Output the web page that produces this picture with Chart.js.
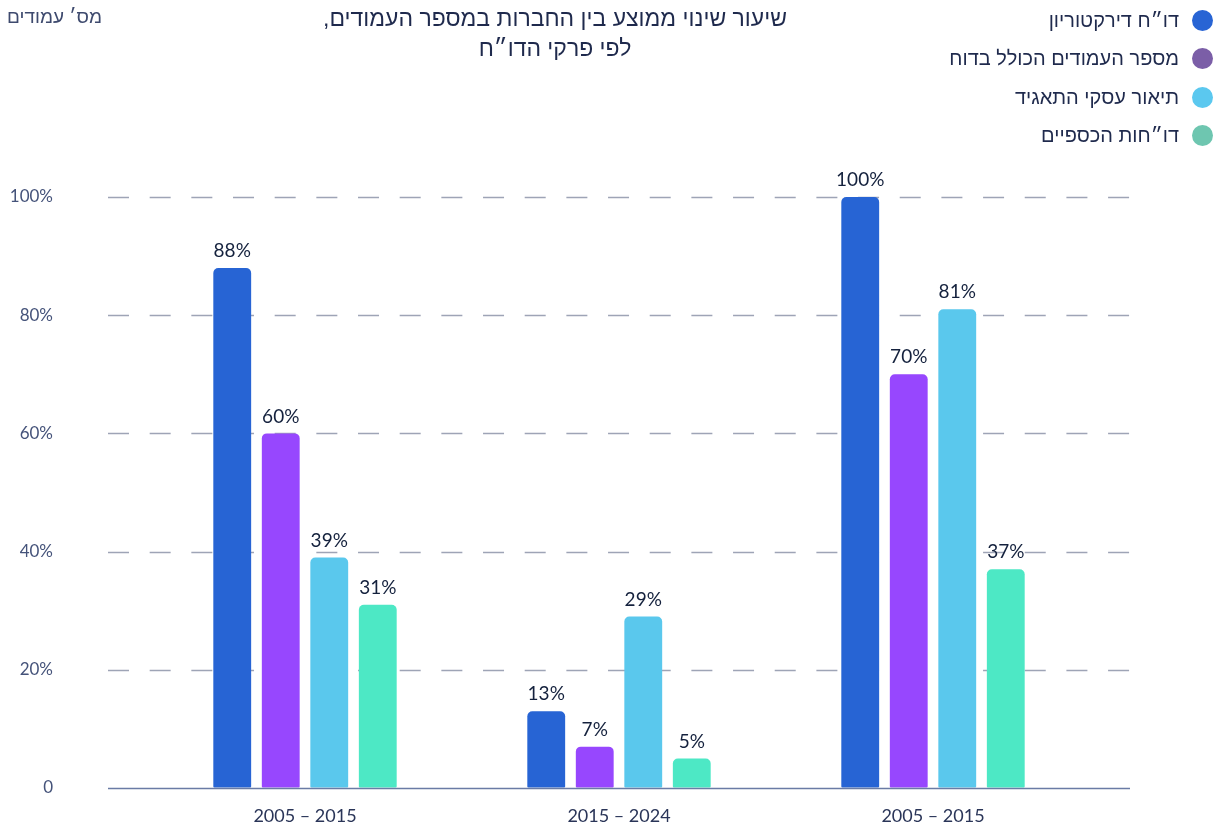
<!DOCTYPE html>
<html lang="he">
<head>
<meta charset="utf-8">
<title>שיעור שינוי ממוצע בין החברות במספר העמודים</title>
<script src="https://cdn.jsdelivr.net/npm/chart.js@4/dist/chart.umd.min.js"></script>
<style>
  html, body { margin: 0; padding: 0; background: #ffffff; }
  #wrap { position: relative; width: 1219px; height: 830px; overflow: hidden; }
  #chart { position: absolute; left: 0; top: 0; }
  .heb { font-family: "Liberation Sans", "DejaVu Sans", sans-serif; direction: rtl; position: absolute; white-space: nowrap; }
  #title { left: 250px; width: 610px; top: 3px; text-align: center; font-size: 23px; line-height: 30px; color: #1f2a4d; }
  #ytitle { left: 7px; top: 6px; font-size: 19px; color: #3e4a6e; }
  #legend { right: 6px; top: 1px; }
  .item { display: flex; flex-direction: row; align-items: center; justify-content: flex-start; height: 38.5px; font-size: 20px; color: #1f2a4d; }
  .dot { width: 21px; height: 21px; border-radius: 50%; margin-left: 13px; flex: none; }
</style>
</head>
<body>
<div id="wrap">
  <canvas id="chart" width="1219" height="830"></canvas>
  <div id="title" class="heb">שיעור שינוי ממוצע בין החברות במספר העמודים,<br>לפי פרקי הדו״ח</div>
  <div id="ytitle" class="heb">מס׳ עמודים</div>
  <div id="legend" class="heb"></div>
</div>
<script>
// Periods on the x axis
const categories = ['2005 – 2015', '2015 – 2024', '2005 – 2015'];

// Average change (%) per report section
const directorsReport = [88, 13, 100];
const totalPages      = [60, 7, 70];
const businessDesc    = [39, 29, 81];
const financialStmts  = [31, 5, 37];

// Series names
const seriesNames = ['דו״ח דירקטוריון', 'מספר העמודים הכולל בדוח', 'תיאור עסקי התאגיד', 'דו״חות הכספיים'];

// Y axis ticks
const yTicks = [0, 20, 40, 60, 80, 100];

const barColors    = ['#2764d4', '#9747fe', '#5ac8ed', '#4de8c5'];
const legendColors = ['#2864d4', '#7b5ea7', '#5bc8ef', '#6ec6b0'];

const seriesValues = [directorsReport, totalPages, businessDesc, financialStmts];

// Legend (HTML, right-to-left)
const legendEl = document.getElementById('legend');
seriesNames.forEach((name, i) => {
  const row = document.createElement('div');
  row.className = 'item';
  const dot = document.createElement('span');
  dot.className = 'dot';
  dot.style.background = legendColors[i];
  const txt = document.createElement('span');
  txt.textContent = name;
  row.appendChild(dot);
  row.appendChild(txt);
  legendEl.appendChild(row);
});

const GRID_LEFT = 108, GRID_RIGHT = 1130;
const numFont = 'Lato, "DejaVu Sans", sans-serif';

// Dashed horizontal grid + solid baseline, extended past the plot area
const gridPlugin = {
  id: 'extendedGrid',
  beforeDatasetsDraw(chart) {
    const ctx = chart.ctx;
    const y = chart.scales.y;
    ctx.save();
    ctx.lineWidth = 1.3;
    ctx.strokeStyle = '#9ea4b6';
    ctx.setLineDash([21, 20.67]);
    yTicks.forEach(v => {
      if (v === 0) return;
      const py = Math.round(y.getPixelForValue(v)) + 0.5;
      ctx.beginPath();
      ctx.moveTo(GRID_LEFT, py);
      ctx.lineTo(GRID_RIGHT, py);
      ctx.stroke();
    });
    ctx.restore();
  },
  afterDatasetsDraw(chart) {
    const ctx = chart.ctx;
    const y = chart.scales.y;
    ctx.save();
    ctx.lineWidth = 1.3;
    ctx.strokeStyle = '#6a7ba5';
    const py = Math.round(y.getPixelForValue(0)) + 0.5;
    ctx.beginPath();
    ctx.moveTo(GRID_LEFT, py);
    ctx.lineTo(GRID_RIGHT, py);
    ctx.stroke();

    // value labels above each bar
    ctx.fillStyle = '#14213d';
    ctx.font = '19px ' + numFont;
    ctx.textAlign = 'center';
    ctx.textBaseline = 'middle';
    chart.data.datasets.forEach((ds, di) => {
      const meta = chart.getDatasetMeta(di);
      meta.data.forEach((bar, i) => {
        ctx.fillText(ds.data[i] + '%', bar.x, bar.y - 17);
      });
    });
    ctx.restore();
  }
};

new Chart(document.getElementById('chart'), {
  type: 'bar',
  data: {
    labels: categories,
    datasets: seriesValues.map((vals, i) => ({
      label: seriesNames[i],
      data: vals,
      backgroundColor: barColors[i],
      borderRadius: { topLeft: 5, topRight: 5, bottomLeft: 1, bottomRight: 1 },
      borderSkipped: false,
      categoryPercentage: 0.618,
      barPercentage: 0.78
    }))
  },
  options: {
    responsive: false,
    animation: false,
    layout: { padding: { top: 197, right: 129, bottom: 0, left: 0 } },
    plugins: {
      legend: { display: false },
      title: { display: false },
      tooltip: { enabled: false }
    },
    scales: {
      x: {
        grid: { display: false, drawTicks: false },
        border: { display: false },
        ticks: { color: '#2a3558', font: { family: numFont, size: 18 }, padding: 17 },
        afterFit(scale) { scale.height = 42; }
      },
      y: {
        min: 0,
        max: 100,
        afterBuildTicks(scale) { scale.ticks = yTicks.map(v => ({ value: v })); },
        grid: { display: true, drawOnChartArea: false, drawTicks: true, tickLength: 87, color: 'rgba(0,0,0,0)' },
        border: { display: false },
        ticks: {
          color: '#45537a',
          font: { family: numFont, size: 17 },
          padding: 8,
          callback: v => (v === 0 ? '0' : v + '%')
        },
        afterFit(scale) { scale.width = 148; }
      }
    }
  },
  plugins: [gridPlugin]
});
</script>
</body>
</html>
